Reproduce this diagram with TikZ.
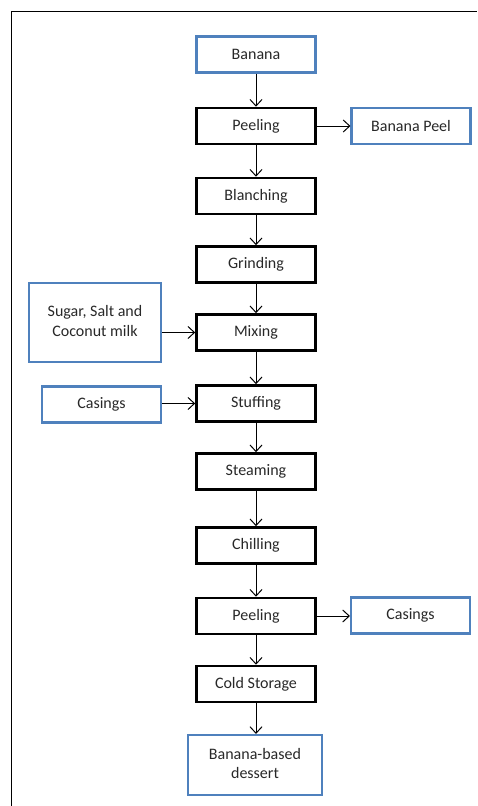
\documentclass[tikz,border=0pt]{standalone}
\usepackage{fontspec}
\setmainfont{Carlito}
\usetikzlibrary{arrows.meta}
\definecolor{officeblue}{RGB}{79,129,189}
\definecolor{txtgray}{RGB}{40,40,40}
\begin{document}
\begin{tikzpicture}[x=1pt,y=-1pt,
  every node/.style={font=\fontsize{16}{19.5}\selectfont, text=txtgray, inner sep=0pt},
  stepbox/.style={draw=black, line width=2.6pt, minimum width=119pt, minimum height=36pt},
  endbox/.style={draw=officeblue, line width=2.1pt, minimum width=119pt, minimum height=36pt},
  flow/.style={draw=black, line width=1pt, -{Straight Barb[length=6.5pt,width=12pt,line width=1pt]}}
]
\useasboundingbox (0,0) rectangle (477,806);
\draw[line width=1pt] (11,806) -- (11,11) -- (477,11);

\node[endbox] (banana) at (256,54.5) {Banana};
\node[stepbox] (peel1) at (256,126) {Peeling};
\node[endbox] (bpeel) at (411,126) {Banana Peel};
\node[stepbox] (blanch) at (256,196) {Blanching};
\node[stepbox] (grind) at (256,264.5) {Grinding};
\node[endbox, minimum width=132pt, minimum height=79pt] (sugar) at (95,322.5)
  {\raisebox{5pt}{\begin{tabular}{@{}c@{}}Sugar, Salt and\\Coconut milk\end{tabular}}};
\node[stepbox] (mix) at (256,332.5) {Mixing};
\node[endbox] (casin) at (101.5,404.5) {Casings};
\node[stepbox] (stuff) at (256,403.5) {Stuffing};
\node[stepbox] (steam) at (256,471.5) {Steaming};
\node[stepbox] (chill) at (256,545.5) {Chilling};
\node[stepbox] (peel2) at (256,616) {Peeling};
\node[endbox] (casout) at (410.5,615.5) {Casings};
\node[stepbox] (cold) at (256,684) {Cold Storage};
\node[endbox, minimum width=134pt, minimum height=60pt] (dessert) at (255,765)
  {\raisebox{3pt}{\begin{tabular}{@{}c@{}}Banana-based\\dessert\end{tabular}}};

\draw[flow] (banana) -- (peel1);
\draw[flow] (peel1) -- (bpeel);
\draw[flow] (peel1) -- (blanch);
\draw[flow] (blanch) -- (grind);
\draw[flow] (grind) -- (mix);
\draw[flow] (sugar.east |- mix.west) -- (mix.west);
\draw[flow] (mix) -- (stuff);
\draw[flow] (casin.east |- stuff.west) -- (stuff.west);
\draw[flow] (stuff) -- (steam);
\draw[flow] (steam) -- (chill);
\draw[flow] (chill) -- (peel2);
\draw[flow] (peel2.east) -- (casout.west |- peel2.east);
\draw[flow] (peel2) -- (cold);
\draw[flow] (cold) -- (dessert.north -| cold.south);
\end{tikzpicture}
\end{document}
